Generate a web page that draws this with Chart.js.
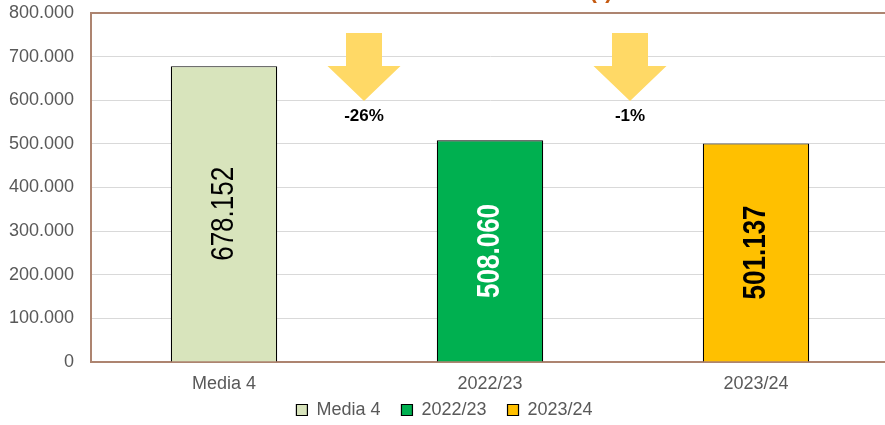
<!DOCTYPE html>
<html>
<head>
<meta charset="utf-8">
<script src="https://cdn.jsdelivr.net/npm/chart.js@4"></script>
<style>
html,body{margin:0;padding:0;background:#fff;overflow:hidden}
#wrap{width:890px;height:425px;position:relative}
</style>
</head>
<body>
<div id="wrap"><canvas id="chart"></canvas></div>
<script>
let categories=["Media 4","2022/23","2023/24"]
let values=[678152,508060,501137]
let colors=["#D8E4BC","#00B050","#FFC000"]
let labelColors=["#000000","#ffffff","#000000"]
let labelBold=[false,true,true]
let changes=["-26%","-1%"]
let yTicks=[0,100000,200000,300000,400000,500000,600000,700000,800000]

function fmt(v){
return v.toLocaleString("de-DE")
}

function tickFmt(v){
if(v==0) return "0"
return (v/1000).toFixed(3)
}

let datasets=categories.map((c,i)=>{
let d=categories.map((x,j)=>j==i?values[i]:null)
return {
label:c,
data:d,
backgroundColor:colors[i],
borderColor:"#000",
borderWidth:1.2,
grouped:false,
barPercentage:0.4,
categoryPercentage:1
}
})

let extras={
id:"extras",
afterDatasetsDraw(chart){
let ctx=chart.ctx
let area=chart.chartArea
let xs=chart.scales.x

// value labels inside bars
chart.data.datasets.forEach((ds,i)=>{
let bar=chart.getDatasetMeta(i).data[i]
let cy=(bar.y+bar.base)/2
ctx.save()
ctx.translate(bar.x,cy)
ctx.rotate(-Math.PI/2)
ctx.scale(1,1.2)
ctx.font=(labelBold[i]?"bold ":"")+"26px 'Liberation Sans', Arial, sans-serif"
ctx.fillStyle=labelColors[i]
ctx.textAlign="center"
ctx.textBaseline="middle"
ctx.fillText(fmt(values[i]),0,0)
ctx.restore()
})

// arrows + change labels
changes.forEach((t,i)=>{
let cx=(xs.getPixelForValue(i)+xs.getPixelForValue(i+1))/2+7
let top=area.top+20
let neck=area.top+53
let tip=area.top+88
ctx.save()
ctx.fillStyle="#FFD966"
ctx.beginPath()
ctx.moveTo(cx-18,top)
ctx.lineTo(cx+18,top)
ctx.lineTo(cx+18,neck)
ctx.lineTo(cx+36.5,neck)
ctx.lineTo(cx,tip)
ctx.lineTo(cx-36.5,neck)
ctx.lineTo(cx-18,neck)
ctx.closePath()
ctx.fill()
ctx.font="bold 17px 'Liberation Sans', Arial, sans-serif"
ctx.fillStyle="#000"
ctx.textAlign="center"
ctx.textBaseline="middle"
ctx.fillText(t,cx,area.top+103)
ctx.restore()
})

// top border of plot area
ctx.save()
ctx.strokeStyle="#AD8470"
ctx.lineWidth=2
ctx.beginPath()
ctx.moveTo(area.left,area.top)
ctx.lineTo(area.right,area.top)
ctx.stroke()

// title remnant
ctx.font="bold 22px 'Liberation Sans', Arial, sans-serif"
ctx.fillStyle="#C55A11"
ctx.textAlign="center"
ctx.textBaseline="alphabetic"
ctx.fillText("(*)",601,-2)
ctx.restore()
}
}

let font={size:18,family:"'Liberation Sans', Arial, sans-serif"}

new Chart(document.getElementById("chart"),{
type:"bar",
data:{labels:categories,datasets:datasets},
plugins:[extras],
options:{
responsive:true,
maintainAspectRatio:false,
animation:false,
layout:{padding:{top:0,right:1,left:0,bottom:-4}},
scales:{
x:{
grid:{display:false,drawTicks:false},
border:{color:"#AD8470",width:2},
ticks:{color:"#595959",font:font,padding:11},
afterFit(s){s.height=33;s.paddingLeft=0;s.paddingRight=0}
},
y:{
min:0,
max:800000,
afterBuildTicks(s){s.ticks=yTicks.map(v=>({value:v}))},
grid:{color:"#D9D9D9",lineWidth:1,drawTicks:false},
border:{color:"#AD8470",width:2},
ticks:{color:"#595959",font:font,padding:17,callback:v=>tickFmt(v)},
afterFit(s){s.width=91;s.paddingTop=13;s.paddingBottom=0}
}
},
plugins:{
legend:{
position:"bottom",
labels:{
boxWidth:11,
boxHeight:11,
padding:6,
color:"#595959",
font:font,
generateLabels(chart){
let items=Chart.defaults.plugins.legend.labels.generateLabels(chart)
items.forEach((it,i)=>{
if(i<items.length-1) it.text=it.text+"   "
})
return items
}
}
},
tooltip:{enabled:false}
}
}
})
</script>
</body>
</html>
